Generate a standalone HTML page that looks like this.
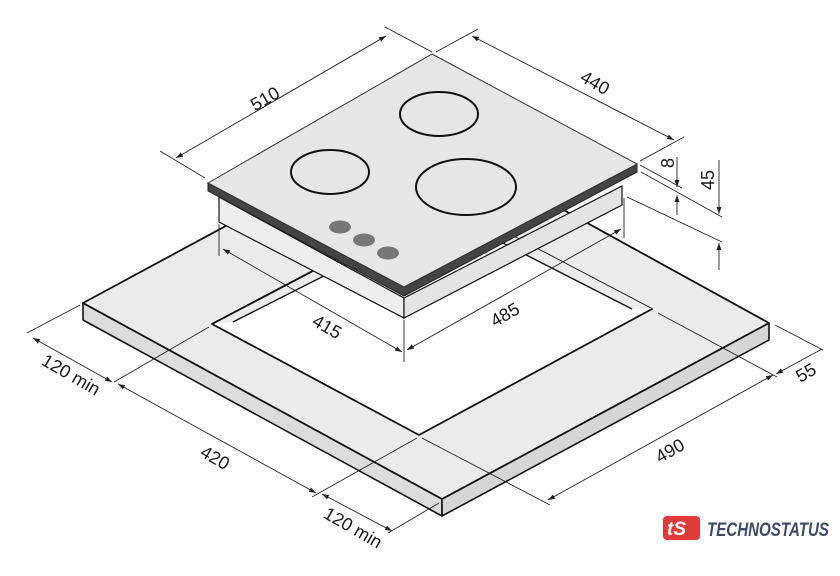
<!DOCTYPE html>
<html><head><meta charset="utf-8"><style>
html,body{margin:0;padding:0;background:#fff;}
svg{display:block;}
text{font-family:"Liberation Sans",sans-serif;font-size:18px;fill:#1a1a1a;}
</style></head><body>
<svg width="840" height="576" viewBox="0 0 840 576" xmlns="http://www.w3.org/2000/svg">
<defs>
<marker id="a" viewBox="0 0 10 10" refX="10" refY="5" markerWidth="7" markerHeight="7" orient="auto-start-reverse" markerUnits="userSpaceOnUse"><path d="M0,1.5 L10,5 L0,8.5z" fill="#222"/></marker>
</defs>
<!-- countertop -->
<polygon points="83,303 442,499 442,516 83,320" fill="#dcdcdc" stroke="#111" stroke-width="1.6" stroke-linejoin="round"/>
<polygon points="442,499 769,323 769,340 442,516" fill="#d6d6d6" stroke="#111" stroke-width="1.6" stroke-linejoin="round"/>
<polygon points="83,303 411,126 769,323 442,499" fill="#ebebeb" stroke="#111" stroke-width="1.8" stroke-linejoin="round"/>
<polygon points="212,324 446,201 652,309 419,435" fill="#fff" stroke="#111" stroke-width="1.8" stroke-linejoin="round"/>
<polygon points="212,324 446,201 652,309 632,309 446,214 233,322" fill="#ececec" stroke="none"/>
<polyline points="233,322 446,214 632,309" fill="none" stroke="#111" stroke-width="1.4"/>
<line x1="212" y1="324" x2="446" y2="201" stroke="#111" stroke-width="1.8"/>
<!-- hob body -->
<polygon points="219,197 404,298 404,318 219,222" fill="#eeeeee" stroke="#111" stroke-width="1.2"/>
<polygon points="404,298 622,186 622,205 404,318" fill="#e4e4e4" stroke="#111" stroke-width="1.2"/>
<!-- glass edge -->
<polygon points="208,183 404,287 637,164 637,172 404,296 208,191" fill="#444" stroke="#222" stroke-width="1"/>
<polygon points="208,183 432,54 637,164 404,287" fill="#e6e6e6" stroke="#333" stroke-width="1"/>
<!-- burners -->
<g fill="none" stroke="#111" stroke-width="2">
<ellipse cx="439" cy="114" rx="39" ry="22"/>
<ellipse cx="330" cy="172" rx="39" ry="22"/>
<ellipse cx="466" cy="187" rx="50" ry="28"/>
</g>
<g fill="#777">
<ellipse cx="340" cy="227" rx="11" ry="6.5"/>
<ellipse cx="364" cy="240" rx="11" ry="6.5"/>
<ellipse cx="388" cy="253" rx="11" ry="6.5"/>
</g>
<!-- extension lines -->
<g stroke="#222" stroke-width="0.9" fill="none">
<line x1="160" y1="151" x2="205" y2="178"/>
<line x1="385" y1="27" x2="432" y2="52"/>
<line x1="436" y1="52" x2="478" y2="29"/>
<line x1="640" y1="161" x2="684" y2="137"/>
<line x1="640" y1="165" x2="682" y2="188"/>
<line x1="641" y1="172" x2="722" y2="217"/>
<line x1="627" y1="197" x2="722" y2="242"/>
<line x1="624" y1="198" x2="624" y2="238"/>
<line x1="219" y1="224" x2="219" y2="256"/>
<line x1="404" y1="320" x2="404" y2="362"/>
<line x1="80" y1="305" x2="27" y2="333"/>
<line x1="209" y1="327" x2="114" y2="382"/>
<line x1="417" y1="438" x2="312" y2="497"/>
<line x1="439" y1="503" x2="388" y2="533"/>
<line x1="422" y1="438" x2="550" y2="505"/>
<line x1="658" y1="313" x2="777" y2="377"/>
<line x1="775" y1="325" x2="823" y2="350"/>
</g>
<!-- dimension lines -->
<g stroke="#222" stroke-width="0.9" fill="none" marker-start="url(#a)" marker-end="url(#a)">
<line x1="176" y1="158" x2="386" y2="36"/>
<line x1="472" y1="36" x2="674" y2="140"/>
<line x1="223" y1="249" x2="402" y2="352"/>
<line x1="407" y1="350" x2="621" y2="229"/>
<line x1="33" y1="338" x2="112" y2="382"/>
<line x1="118" y1="384" x2="316" y2="493"/>
<line x1="322" y1="494" x2="392" y2="531"/>
<line x1="548" y1="500" x2="773" y2="375"/>
</g>
<g stroke="#222" stroke-width="0.9" fill="none" marker-end="url(#a)">
<line x1="677" y1="157" x2="677" y2="187"/>
<line x1="677" y1="215" x2="677" y2="195"/>
<line x1="719" y1="160" x2="719" y2="214"/>
<line x1="719" y1="270" x2="719" y2="243"/>
<line x1="822" y1="349" x2="776" y2="374"/>
</g>
<!-- labels -->
<text transform="translate(268,104) rotate(-30)" text-anchor="middle">510</text>
<text transform="translate(592,88) rotate(30)" text-anchor="middle">440</text>
<text transform="translate(674,163) rotate(-90)" text-anchor="middle">8</text>
<text transform="translate(714,180) rotate(-90)" text-anchor="middle">45</text>
<text transform="translate(324,332) rotate(30)" text-anchor="middle">415</text>
<text transform="translate(508,320) rotate(-30)" text-anchor="middle">485</text>
<text transform="translate(68,380) rotate(30)" text-anchor="middle">120 min</text>
<text transform="translate(212,463) rotate(30)" text-anchor="middle">420</text>
<text transform="translate(350,533) rotate(30)" text-anchor="middle">120 min</text>
<text transform="translate(673,456) rotate(-30)" text-anchor="middle">490</text>
<text transform="translate(809,378) rotate(-30)" text-anchor="middle">55</text>
<!-- logo -->
<rect x="663" y="516" width="37" height="24" rx="4" fill="#e03a3a"/>
<text x="667" y="535" style="font-size:19px;font-weight:bold;fill:#fff;font-style:italic">tS</text>
<text x="707" y="536" textLength="122" lengthAdjust="spacingAndGlyphs" style="font-size:19px;font-weight:bold;font-style:italic;fill:#3b4a6b">TECHNOSTATUS</text>
</svg>
</body></html>
